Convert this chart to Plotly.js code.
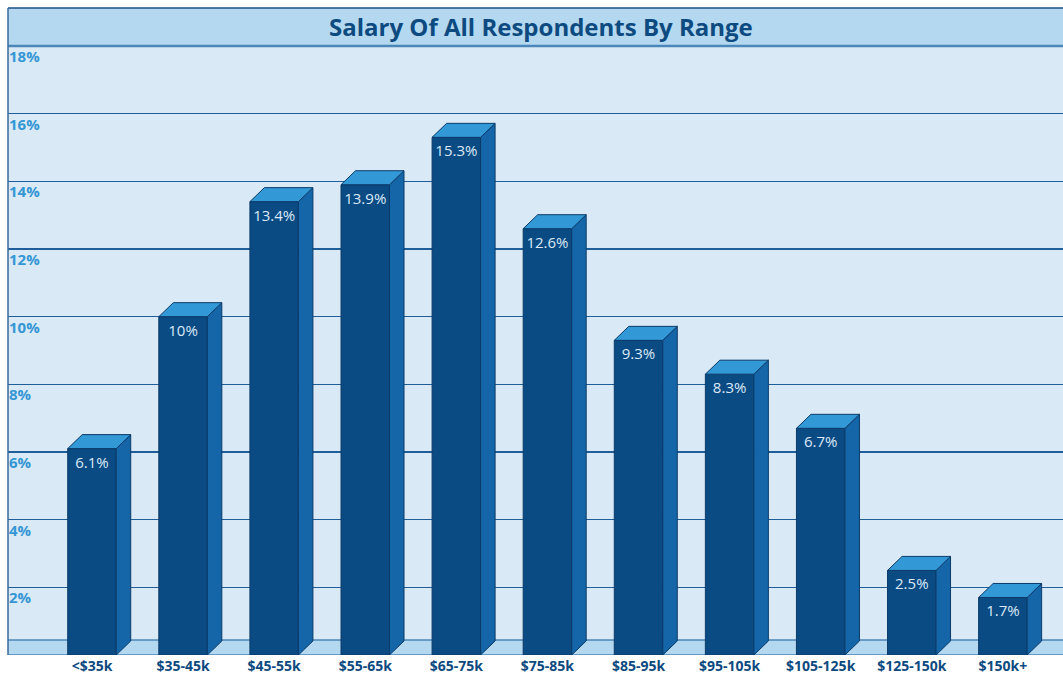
<!DOCTYPE html>
<html>
<head>
<meta charset="utf-8">
<script src="https://cdn.plot.ly/plotly-3.0.1.min.js"></script>
<style>html,body{margin:0;padding:0;background:#fff;}#chart{width:1063px;height:675px;}</style>
</head>
<body>
<div id="chart"></div>
<script>
// ---- data ----
const categories = ['<$35k','$35-45k','$45-55k','$55-65k','$65-75k','$75-85k','$85-95k','$95-105k','$105-125k','$125-150k','$150k+'];
const values = [6.1, 10, 13.4, 13.9, 15.3, 12.6, 9.3, 8.3, 6.7, 2.5, 1.7];
const yTickVals = [2, 4, 6, 8, 10, 12, 14, 16, 18];
const yTickText = ['2%', '4%', '6%', '8%', '10%', '12%', '14%', '16%', '18%'];
const chartTitle = 'Salary Of All Respondents By Range';

// ---- styling / geometry ----
const W = 1063, H = 675;
const margin = {l: 8, r: 0, t: 46, b: 20};
const xRange = [-0.922, 10.66];
const yRange = [0, 18];
const plotW = W - margin.l - margin.r;
const plotH = H - margin.t - margin.b;
const pxPerX = plotW / (xRange[1] - xRange[0]);
const pxPerY = plotH / (yRange[1] - yRange[0]);
const barW = 48.5 / pxPerX;
const dx = 14.5 / pxPerX;
const dy = 14 / pxPerY;

const cFront = '#0a4b84';
const cSide = '#1466a8';
const cTop = '#3398d6';
const cEdge = '#0b3a68';

const xIdx = categories.map((c, i) => i);

// top & side faces built from values
const topX = [], topY = [], sideX = [], sideY = [];
xIdx.forEach((i) => {
  const v = values[i];
  const x0 = i - barW / 2, x1 = i + barW / 2;
  topX.push(x0, x1, x1 + dx, x0 + dx, x0, null);
  topY.push(v, v, v + dy, v + dy, v, null);
  sideX.push(x1, x1 + dx, x1 + dx, x1, x1, null);
  sideY.push(0, dy, v + dy, v, 0, null);
});

const traces = [
  {
    type: 'bar', x: xIdx, y: values, width: barW,
    marker: {color: cFront, line: {color: cEdge, width: 1}},
    text: values.map(v => v + '%'),
    textposition: 'inside', insidetextanchor: 'end', constraintext: 'none',
    textfont: {family: 'Open Sans, sans-serif', size: 15, color: '#dbe9f6'},
    hoverinfo: 'skip', cliponaxis: false
  },
  {
    type: 'scatter', mode: 'lines', x: sideX, y: sideY, fill: 'toself',
    fillcolor: cSide, line: {color: cEdge, width: 1}, hoverinfo: 'skip', cliponaxis: false
  },
  {
    type: 'scatter', mode: 'lines', x: topX, y: topY, fill: 'toself',
    fillcolor: cTop, line: {color: cEdge, width: 1}, hoverinfo: 'skip', cliponaxis: false
  }
];

const annotations = yTickVals.map((v, k) => ({
  xref: 'paper', yref: 'y', x: 0, y: v, xanchor: 'left', yanchor: 'top',
  text: yTickText[k], showarrow: false, xshift: -1, yshift: 2,
  font: {family: 'Open Sans, sans-serif', size: 15, color: '#3596d4', weight: 'bold'}
}));
annotations.push({
  xref: 'paper', yref: 'paper', x: 0.5, y: 1 + 19 / plotH, xanchor: 'center', yanchor: 'middle',
  text: '<b>' + chartTitle + '</b>', showarrow: false, xshift: 5,
  font: {family: 'Open Sans, sans-serif', size: 24, color: '#0d4a80'}
});

const floorTop = 15 / pxPerY;
const shapes = [
  // floor band
  {type: 'rect', xref: 'paper', yref: 'y', x0: 0, x1: 1, y0: 0, y1: floorTop, layer: 'below',
   fillcolor: '#b3d8f0', line: {width: 0}},
  {type: 'line', xref: 'paper', yref: 'y', x0: 0, x1: 1, y0: floorTop, y1: floorTop, layer: 'below',
   line: {color: '#4d86b8', width: 1.5}},
  {type: 'line', xref: 'paper', yref: 'y', x0: 0, x1: 1, y0: 0, y1: 0, layer: 'below',
   line: {color: '#4d86b8', width: 1.5}},
  // title band
  {type: 'rect', xref: 'paper', yref: 'paper', x0: 0, x1: 1, y0: 1, y1: 1 + 38 / plotH,
   fillcolor: '#b3d8f0', line: {width: 0}},
  {type: 'line', xref: 'paper', yref: 'paper', x0: 0, x1: 1, y0: 1 + 38 / plotH, y1: 1 + 38 / plotH,
   line: {color: '#1d4f86', width: 1.5}},
  {type: 'line', xref: 'paper', yref: 'paper', x0: 0, x1: 1, y0: 1, y1: 1,
   line: {color: '#4d86b8', width: 2.5}},
  // left border
  {type: 'line', xref: 'paper', yref: 'paper', x0: 0, x1: 0, y0: 0, y1: 1 + 38 / plotH,
   line: {color: '#3a6a98', width: 1.5}}
];

const layout = {
  width: W, height: H,
  margin: margin,
  paper_bgcolor: '#ffffff',
  plot_bgcolor: '#d9eaf6',
  showlegend: false,
  xaxis: {
    range: xRange, tickvals: xIdx, ticktext: categories, showgrid: false, zeroline: false,
    showline: false, ticks: '', fixedrange: true, ticklabelstandoff: 1,
    tickfont: {family: 'Open Sans, sans-serif', size: 14, color: '#0d4a80', weight: 'bold'}
  },
  yaxis: {
    range: yRange, tickvals: yTickVals, showticklabels: false, showgrid: true,
    gridcolor: '#1f5e98', gridwidth: 1.3, zeroline: false, showline: false, ticks: '', fixedrange: true
  },
  annotations: annotations,
  shapes: shapes,
  bargap: 0
};

Plotly.newPlot('chart', traces, layout, {displayModeBar: false, staticPlot: true});
</script>
</body>
</html>
